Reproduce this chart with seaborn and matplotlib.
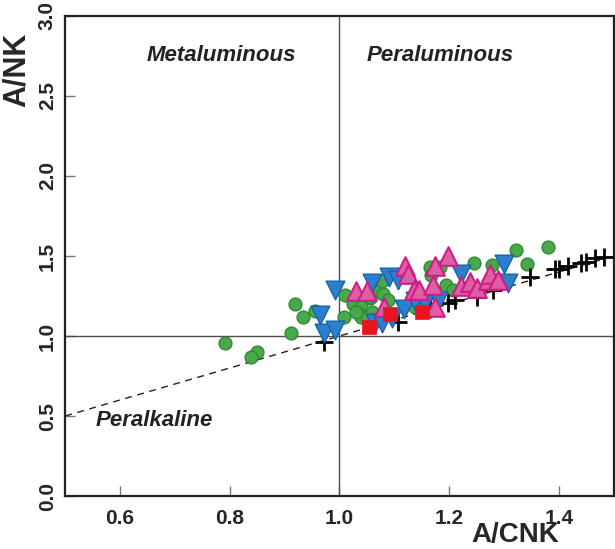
import numpy as np
import pandas as pd
import matplotlib
matplotlib.use("Agg")
import matplotlib.pyplot as plt
import seaborn as sns

# A/CNK vs A/NK values
green_x = [0.792, 0.850, 0.839, 0.912, 0.919, 0.933, 0.955, 1.009, 1.010, 1.024,
           1.040, 1.038, 1.040, 1.055, 1.068, 1.077, 1.080, 1.089, 1.051, 1.065,
           1.054, 1.137, 1.165, 1.183, 1.167, 1.245, 1.278, 1.194, 1.207, 1.321,
           1.381, 1.342, 1.060, 1.030]
green_y = [0.958, 0.900, 0.870, 1.020, 1.200, 1.120, 1.156, 1.117, 1.254, 1.200,
           1.180, 1.140, 1.117, 1.235, 1.280, 1.345, 1.260, 1.225, 1.117, 1.117,
           1.246, 1.180, 1.430, 1.430, 1.380, 1.454, 1.444, 1.319, 1.290, 1.537,
           1.554, 1.450, 1.150, 1.150]

blue_x = [0.965, 0.972, 0.992, 0.991, 1.059, 1.090, 1.106, 1.065, 1.078, 1.095,
          1.117, 1.137, 1.180, 1.222, 1.300, 1.307, 1.156]
blue_y = [1.130, 1.020, 1.035, 1.290, 1.330, 1.370, 1.350, 1.080, 1.080, 1.110,
          1.170, 1.220, 1.220, 1.390, 1.450, 1.330, 1.210]

pink_x = [1.031, 1.050, 1.082, 1.119, 1.124, 1.135, 1.145, 1.170, 1.174, 1.197,
          1.175, 1.221, 1.238, 1.251, 1.270, 1.274, 1.289]
pink_y = [1.280, 1.280, 1.180, 1.440, 1.390, 1.290, 1.290, 1.320, 1.440, 1.500,
          1.180, 1.310, 1.340, 1.300, 1.350, 1.390, 1.350]

red_x = [1.053, 1.092, 1.150]
red_y = [1.058, 1.140, 1.150]

cross_x = [0.971, 1.107, 1.165, 1.198, 1.210, 1.251, 1.280, 1.348, 1.392, 1.400,
           1.416, 1.440, 1.450, 1.465, 1.483]
cross_y = [0.964, 1.090, 1.170, 1.205, 1.225, 1.245, 1.290, 1.370, 1.417, 1.420,
           1.437, 1.458, 1.464, 1.485, 1.496]

sns.set_style("ticks")
plt.rcParams['font.family'] = ['Liberation Sans', 'DejaVu Sans']

fig = plt.figure(figsize=(6.15, 5.49), dpi=100)
ax = fig.add_axes([0.106, 0.0965, 0.892, 0.8745])

# reference lines
ax.axvline(1.0, color="#4d4d4d", lw=1.0, zorder=1)
ax.axhline(1.0, color="#4d4d4d", lw=1.0, zorder=1)
ax.plot([0.5, 1.5], [0.5, 1.5], ls=(0, (5, 4)), color="#222222", lw=1.0, zorder=1)

sns.scatterplot(x=green_x, y=green_y, ax=ax, marker="o", s=85,
                color="#4aa84a", edgecolor="#2f8a34", linewidth=1.0, zorder=2)
sns.scatterplot(x=cross_x, y=cross_y, ax=ax, marker="+", s=170,
                color="black", linewidth=2.0, zorder=3)
sns.scatterplot(x=blue_x, y=blue_y, ax=ax, marker="v", s=180,
                color="#2b7fcc", edgecolor="#1563ad", linewidth=1.0, zorder=4)
sns.scatterplot(x=pink_x, y=pink_y, ax=ax, marker="^", s=180,
                color="#de5ea6", edgecolor="#cc1f86", linewidth=1.5, zorder=5)
sns.scatterplot(x=red_x, y=red_y, ax=ax, marker="s", s=115,
                color="#e8141e", edgecolor="#e8141e", linewidth=0.5, zorder=6)

ax.set_xlim(0.5, 1.5)
ax.set_ylim(0.0, 3.0)
ax.set_xticks([0.6, 0.8, 1.0, 1.2, 1.4])
ax.set_yticks([0.0, 0.5, 1.0, 1.5, 2.0, 2.5, 3.0])
ax.set_xticklabels(["0.6", "0.8", "1.0", "1.2", "1.4"], fontsize=15, fontweight="bold")
ax.set_yticklabels(["0.0", "0.5", "1.0", "1.5", "2.0", "2.5", "3.0"], fontsize=15,
                   fontweight="bold", rotation=90, va="center")
ax.tick_params(direction="in", length=7, width=1.0, color="#777777")
ax.tick_params(axis="x", pad=9)
ax.tick_params(axis="y", pad=6)

for side in ["left", "right", "top", "bottom"]:
    ax.spines[side].set_visible(True)
    ax.spines[side].set_linewidth(1.6)
    ax.spines[side].set_color("#222222")

ax.set_xlabel("A/CNK", fontsize=20, fontweight="bold")
ax.xaxis.set_label_coords(0.82, -0.108)
ax.xaxis.label.set_va("bottom")
ax.set_ylabel("A/NK", fontsize=22, fontweight="bold")
ax.yaxis.set_label_coords(-0.088, 0.888)
ax.yaxis.label.set_va("center")
ax.yaxis.label.set_ha("center")

txt = dict(fontsize=16, fontweight="bold", fontstyle="italic", color="#222222",
           ha="center", va="center")
ax.text(0.784, 2.75, "Metaluminous", **txt)
ax.text(1.184, 2.75, "Peraluminous", **txt)
ax.text(0.662, 0.475, "Peralkaline", **txt)

fig.savefig("out.png", dpi=100)
